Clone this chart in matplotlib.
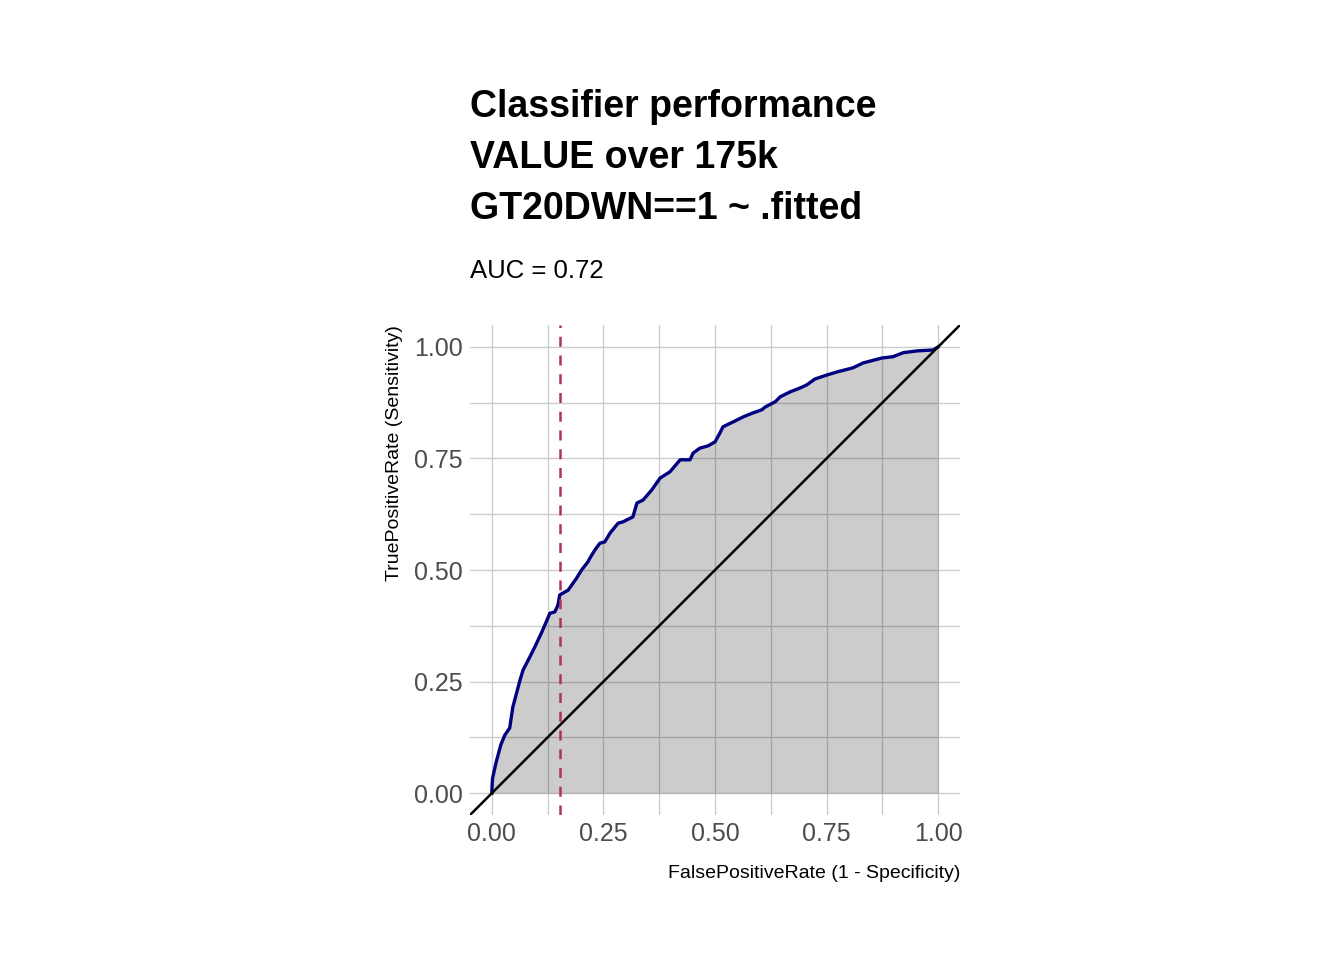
import matplotlib
matplotlib.use("Agg")
import matplotlib.pyplot as plt
from matplotlib import font_manager

names = {f.name for f in font_manager.fontManager.ttflist}
fam = [f for f in ["Liberation Sans Narrow", "Liberation Sans", "DejaVu Sans"] if f in names]
plt.rcParams['font.family'] = fam

# ROC curve points (FPR, TPR)
fpr = [0.0, 0.0, 0.0015, 0.009, 0.020, 0.029, 0.040, 0.047, 0.063, 0.070, 0.085, 0.096,
       0.112, 0.130, 0.141, 0.148, 0.152, 0.171, 0.190, 0.201, 0.215, 0.220, 0.231, 0.242,
       0.253, 0.265, 0.283, 0.294, 0.316, 0.325, 0.339, 0.358, 0.377, 0.399, 0.422, 0.444,
       0.451, 0.466, 0.484, 0.500, 0.511, 0.518, 0.541, 0.563, 0.585, 0.605, 0.612, 0.635,
       0.646, 0.668, 0.691, 0.706, 0.724, 0.751, 0.774, 0.809, 0.832, 0.874, 0.899, 0.922,
       0.953, 0.989, 1.0]
tpr = [0.0, 0.007, 0.033, 0.067, 0.108, 0.130, 0.146, 0.193, 0.253, 0.276, 0.305, 0.327,
       0.361, 0.403, 0.406, 0.421, 0.444, 0.455, 0.482, 0.500, 0.518, 0.527, 0.545, 0.560,
       0.563, 0.583, 0.605, 0.608, 0.619, 0.650, 0.657, 0.679, 0.706, 0.720, 0.747, 0.747,
       0.762, 0.773, 0.778, 0.787, 0.807, 0.821, 0.832, 0.843, 0.852, 0.859, 0.865, 0.877,
       0.888, 0.899, 0.908, 0.915, 0.928, 0.937, 0.944, 0.953, 0.964, 0.975, 0.978, 0.987,
       0.991, 0.993, 1.0]
threshold_fpr = 0.152
ticks = [0.0, 0.25, 0.5, 0.75, 1.0]
tick_labels = ["0.00", "0.25", "0.50", "0.75", "1.00"]
minor_ticks = [0.125, 0.375, 0.625, 0.875]

title_lines = ["Classifier performance", "VALUE over 175k", "GT20DWN==1 ~ .fitted"]
subtitle = "AUC = 0.72"

fig = plt.figure(figsize=(13.44, 9.6), dpi=100)
W, H = 1344, 960
ax = fig.add_axes([470 / W, 1 - 815 / H, 490 / W, 490 / H])
lo, hi = -0.049, 1.049
ax.set_xlim(lo, hi)
ax.set_ylim(lo, hi)

for s in ax.spines.values():
    s.set_visible(False)
grid_c = "#cccccc"
for t in ticks + minor_ticks:
    ax.axvline(t, color=grid_c, lw=1.0, zorder=0)
    ax.axhline(t, color=grid_c, lw=1.0, zorder=0)

ax.fill_between(fpr, tpr, 0, color="black", alpha=0.2, lw=0, zorder=1)
ax.plot(fpr, tpr, color="#000080", lw=2.4, zorder=3)
ax.plot([lo, hi], [lo, hi], color="black", lw=1.8, zorder=4, clip_on=True)
ax.axvline(threshold_fpr, color="#B03060", lw=1.8, ls=(0, (4, 3.5)), zorder=5)

ax.set_xticks(ticks)
ax.set_xticklabels(tick_labels)
ax.set_yticks(ticks)
ax.set_yticklabels(tick_labels)
ax.tick_params(length=0, labelsize=18, colors="#4d4d4d")
ax.tick_params(axis="x", pad=5)
ax.tick_params(axis="y", pad=5)
ax.set_xlabel("FalsePositiveRate (1 - Specificity)", fontsize=14, loc="right", labelpad=14)
ax.set_ylabel("TruePositiveRate (Sensitivity)", fontsize=14, loc="top", labelpad=8)

for i, line in enumerate(title_lines):
    fig.text(470 / W, 1 - (117 + 51 * i) / H, line, fontsize=27, fontweight="bold",
             ha="left", va="baseline")
fig.text(470 / W, 1 - 278 / H, subtitle, fontsize=18.5, ha="left", va="baseline")

fig.savefig("out.png", dpi=100, facecolor="white")
